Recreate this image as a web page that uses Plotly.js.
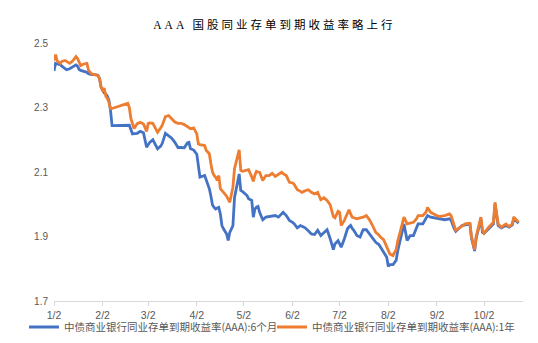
<!DOCTYPE html>
<html>
<head>
<meta charset="utf-8">
<script src="https://cdn.plot.ly/plotly-3.0.1.min.js"></script>
<style>
  html, body { margin: 0; padding: 0; background: #fff; }
  #chart { width: 538px; height: 343px; }
</style>
</head>
<body>
<div id="chart"></div>
<script>
// Trading dates (2024)
const dates = [
  "2024-01-02","2024-01-03","2024-01-04","2024-01-06","2024-01-07","2024-01-09","2024-01-10","2024-01-12",
  "2024-01-14","2024-01-16","2024-01-17","2024-01-18","2024-01-19","2024-01-21","2024-01-23","2024-01-24",
  "2024-01-26","2024-01-28","2024-01-30","2024-01-31","2024-02-01","2024-02-02","2024-02-03","2024-02-04",
  "2024-02-05","2024-02-06","2024-02-07","2024-02-08","2024-02-18","2024-02-19","2024-02-20","2024-02-21",
  "2024-02-22","2024-02-24","2024-02-26","2024-02-28","2024-03-01","2024-03-02","2024-03-03","2024-03-05",
  "2024-03-07","2024-03-08","2024-03-10","2024-03-11","2024-03-13","2024-03-15","2024-03-17","2024-03-19",
  "2024-03-21","2024-03-23","2024-03-25","2024-03-27","2024-03-28","2024-03-29","2024-03-31","2024-04-02",
  "2024-04-03","2024-04-04","2024-04-07","2024-04-08","2024-04-09","2024-04-10","2024-04-11","2024-04-12",
  "2024-04-13","2024-04-14","2024-04-15","2024-04-16","2024-04-17","2024-04-18","2024-04-19","2024-04-21",
  "2024-04-22","2024-04-23","2024-04-25","2024-04-26","2024-04-29","2024-04-30","2024-05-01","2024-05-04",
  "2024-05-05","2024-05-07","2024-05-08","2024-05-09","2024-05-10","2024-05-11","2024-05-12","2024-05-14",
  "2024-05-16","2024-05-18","2024-05-20","2024-05-22","2024-05-24","2024-05-25","2024-05-26","2024-05-27",
  "2024-05-29","2024-05-31","2024-06-02","2024-06-03","2024-06-05","2024-06-06","2024-06-07","2024-06-08",
  "2024-06-10","2024-06-12","2024-06-14","2024-06-16","2024-06-18","2024-06-20","2024-06-22","2024-06-24",
  "2024-06-26","2024-06-28","2024-06-29","2024-07-01","2024-07-02","2024-07-03","2024-07-05","2024-07-07",
  "2024-07-08","2024-07-09","2024-07-10","2024-07-11","2024-07-13","2024-07-15","2024-07-17","2024-07-19",
  "2024-07-21","2024-07-23","2024-07-25","2024-07-27","2024-07-28","2024-07-30","2024-07-31","2024-08-01",
  "2024-08-02","2024-08-03","2024-08-05","2024-08-07","2024-08-08","2024-08-10","2024-08-12","2024-08-14",
  "2024-08-16","2024-08-18","2024-08-20","2024-08-21","2024-08-24","2024-08-26","2024-08-27","2024-08-29",
  "2024-08-31","2024-09-03","2024-09-07","2024-09-10","2024-09-11","2024-09-13","2024-09-14","2024-09-18",
  "2024-09-20","2024-09-22","2024-09-23","2024-09-24","2024-09-26","2024-09-27","2024-09-30","2024-10-01",
  "2024-10-02","2024-10-05","2024-10-08","2024-10-09","2024-10-11","2024-10-13","2024-10-15","2024-10-16",
  "2024-10-18","2024-10-20","2024-10-21","2024-10-23","2024-10-24"
];

// 中债商业银行同业存单到期收益率(AAA):6个月
const yield6m = [
  2.413,2.437,2.435,2.433,2.428,2.420,2.417,2.420,
  2.425,2.432,2.428,2.418,2.415,2.412,2.409,2.405,
  2.402,2.402,2.400,2.390,2.363,2.353,2.345,2.342,
  2.335,2.322,2.291,2.244,2.247,2.245,2.232,2.218,
  2.219,2.220,2.226,2.222,2.177,2.185,2.192,2.200,
  2.180,2.172,2.180,2.189,2.220,2.213,2.205,2.192,
  2.176,2.176,2.175,2.190,2.192,2.172,2.168,2.155,
  2.120,2.084,2.089,2.075,2.063,2.048,2.025,1.998,
  1.990,1.985,1.988,1.990,1.970,1.934,1.924,1.908,
  1.888,1.913,1.934,2.020,2.094,2.043,2.040,2.027,
  2.017,2.012,1.960,1.985,1.991,1.993,1.975,1.952,
  1.960,1.961,1.962,1.965,1.960,1.965,1.970,1.975,
  1.965,1.950,1.944,1.940,1.927,1.930,1.934,1.932,
  1.927,1.918,1.908,1.906,1.919,1.903,1.913,1.921,
  1.893,1.859,1.877,1.887,1.877,1.867,1.893,1.924,
  1.930,1.934,1.925,1.919,1.903,1.898,1.921,1.921,
  1.908,1.895,1.882,1.875,1.867,1.851,1.840,1.836,
  1.807,1.813,1.813,1.826,1.855,1.900,1.939,1.888,
  1.903,1.903,1.929,1.939,1.939,1.955,1.965,1.960,
  1.958,1.955,1.952,1.955,1.950,1.924,1.916,1.934,
  1.936,1.939,1.939,1.895,1.855,1.895,1.955,1.913,
  1.910,1.924,1.939,2.001,1.934,1.927,1.931,1.934,
  1.929,1.936,1.955,1.947,1.941
];

// 中债商业银行同业存单到期收益率(AAA):1年
const yield1y = [
  2.446,2.464,2.445,2.437,2.443,2.446,2.443,2.437,
  2.445,2.458,2.452,2.440,2.430,2.435,2.437,2.415,
  2.404,2.402,2.399,2.390,2.363,2.353,2.360,2.335,
  2.328,2.316,2.297,2.297,2.313,2.300,2.266,2.250,
  2.235,2.250,2.254,2.249,2.226,2.250,2.252,2.251,
  2.230,2.223,2.237,2.245,2.272,2.275,2.265,2.255,
  2.251,2.251,2.247,2.239,2.238,2.234,2.237,2.218,
  2.187,2.185,2.182,2.167,2.162,2.156,2.125,2.100,
  2.089,2.084,2.074,2.089,2.048,2.044,2.037,2.025,
  2.015,2.006,2.053,2.110,2.169,2.105,2.102,2.105,
  2.107,2.085,2.071,2.090,2.102,2.100,2.099,2.074,
  2.089,2.089,2.096,2.086,2.094,2.095,2.099,2.095,
  2.089,2.068,2.066,2.062,2.045,2.043,2.040,2.037,
  2.042,2.045,2.037,2.032,2.037,2.014,2.020,2.012,
  1.998,1.962,1.958,1.978,1.975,1.934,1.950,1.970,
  1.983,1.970,1.960,1.958,1.955,1.958,1.960,1.965,
  1.952,1.934,1.913,1.905,1.898,1.890,1.880,1.867,
  1.855,1.846,1.841,1.859,1.885,1.925,1.960,1.939,
  1.941,1.944,1.955,1.965,1.965,1.975,1.990,1.975,
  1.970,1.962,1.965,1.970,1.965,1.929,1.919,1.932,
  1.939,1.941,1.941,1.900,1.859,1.900,1.960,1.919,
  1.910,1.929,1.944,2.006,1.939,1.929,1.934,1.939,
  1.931,1.939,1.960,1.950,1.944
];

const seriesNames = [
  "中债商业银行同业存单到期收益率(AAA):6个月",
  "中债商业银行同业存单到期收益率(AAA):1年"
];
const xTickVals = ["2024-01-02","2024-02-02","2024-03-02","2024-04-02","2024-05-02",
                   "2024-06-02","2024-07-02","2024-08-02","2024-09-02","2024-10-02"];
const xTickText = ["1/2","2/2","3/2","4/2","5/2","6/2","7/2","8/2","9/2","10/2"];
const yTickVals = [1.7, 1.9, 2.1, 2.3, 2.5];
const chartTitle = "AAA 国股同业存单到期收益率略上行";

const traces = [
  { x: dates, y: yield6m, name: seriesNames[0], type: "scatter", mode: "lines",
    legend: "legend", line: { color: "#4472C4", width: 2.8 } },
  { x: dates, y: yield1y, name: seriesNames[1], type: "scatter", mode: "lines",
    legend: "legend2", line: { color: "#ED7D31", width: 2.8 } }
];

const legendFont = { family: "Noto Sans CJK SC, sans-serif", size: 10.5, color: "#595959" };
const legendY = 1 - 327 / 343;

const layout = {
  width: 538, height: 343,
  paper_bgcolor: "#ffffff", plot_bgcolor: "#ffffff",
  margin: { l: 54, r: 15, t: 43, b: 42 },
  title: {
    text: chartTitle,
    x: 0.51, xref: "container", xanchor: "center",
    y: 1 - 24.5 / 343, yref: "container", yanchor: "middle",
    font: { family: "Liberation Serif, Noto Sans CJK SC, serif", size: 11.5, color: "#000000" }
  },
  xaxis: {
    type: "date",
    range: ["2024-01-02", "2024-10-26 20:00"],
    tickmode: "array", tickvals: xTickVals, ticktext: xTickText,
    showgrid: false, zeroline: false,
    showline: true, linecolor: "#d9d9d9", linewidth: 1,
    ticks: "outside", ticklen: 4, tickcolor: "#d9d9d9", tickwidth: 1,
    tickfont: { family: "Liberation Sans, Arial, sans-serif", size: 10.5, color: "#595959" },
    fixedrange: true
  },
  yaxis: {
    range: [1.7, 2.5],
    tickmode: "array", tickvals: yTickVals, tickformat: ".1f",
    showgrid: false, zeroline: false, showline: false, ticks: "",
    ticklabelstandoff: 5,
    tickfont: { family: "Liberation Sans, Arial, sans-serif", size: 10, color: "#595959" },
    fixedrange: true
  },
  showlegend: true,
  legend: {
    orientation: "h",
    xref: "container", x: 24 / 538, xanchor: "left",
    yref: "container", y: legendY, yanchor: "middle",
    itemwidth: 30, font: legendFont, bgcolor: "rgba(0,0,0,0)"
  },
  legend2: {
    orientation: "h",
    xref: "container", x: 272 / 538, xanchor: "left",
    yref: "container", y: legendY, yanchor: "middle",
    itemwidth: 30, font: legendFont, bgcolor: "rgba(0,0,0,0)"
  }
};

Plotly.newPlot("chart", traces, layout, { displayModeBar: false, staticPlot: true }).then(function () {
  const t = document.querySelector("#chart .gtitle");
  if (t) { t.style.letterSpacing = "3px"; }
});
</script>
</body>
</html>
